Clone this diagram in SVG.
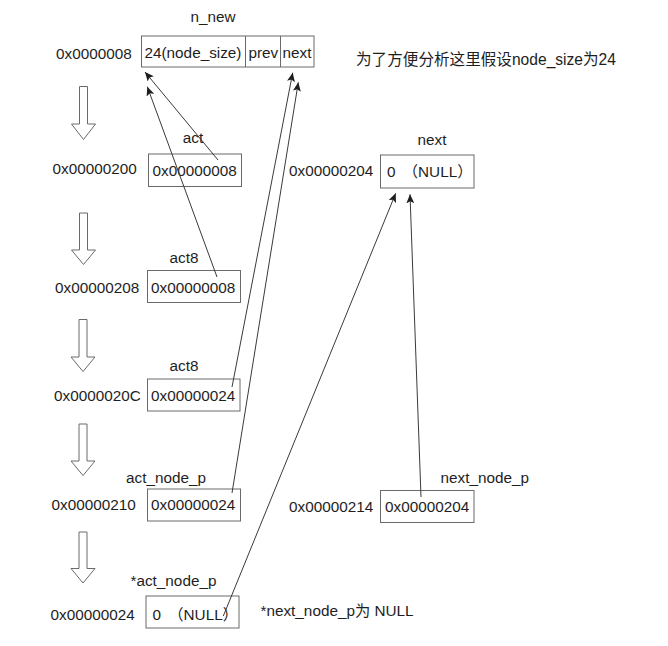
<svg xmlns="http://www.w3.org/2000/svg" width="668" height="646" viewBox="0 0 668 646">
<style>
text{font-family:"Liberation Sans","Noto Sans CJK SC",Arial,sans-serif;font-size:15.3px;fill:#1e1e1e}
.mid{text-anchor:middle}
.cjk{font-size:15.6px}
.box{fill:#fff;stroke:#6a6a6a;stroke-width:1}
.conn{stroke:#3a3a3a;stroke-width:1;fill:none;marker-end:url(#ah)}
.blk{fill:#fff;stroke:#6a6a6a;stroke-width:1}
</style>
<defs>
<marker id="ah" markerWidth="10" markerHeight="8" refX="9" refY="4" orient="auto" markerUnits="userSpaceOnUse">
<path d="M0,0 L9,4 L0,8 L2,4 Z" fill="#1e1e1e"/>
</marker>
</defs>
<rect width="668" height="646" fill="#fff"/>

<g id="n_new">
<text class="mid" x="213" y="22">n_new</text>
<text x="56" y="58.5">0x0000008</text>
<rect class="box" x="141.5" y="36" width="172.5" height="31"/>
<line x1="245.5" y1="36" x2="245.5" y2="67" stroke="#6a6a6a"/>
<line x1="280.5" y1="36" x2="280.5" y2="67" stroke="#6a6a6a"/>
<text x="144.5" y="58">24(node_size)</text>
<text x="248.5" y="58">prev</text>
<text x="282.5" y="58">next</text>
</g>

<g id="note">
<text class="cjk" x="356" y="65">为了方便分析这里假设node_size为24</text>
</g>

<g id="flow-arrows">
<polygon class="blk" points="79.5,86.5 87.5,86.5 87.5,124 95.5,124 83.5,139.5 71.5,124 79.5,124"/>
<polygon class="blk" points="79.5,213 87.5,213 87.5,250 95.5,250 83.5,264.5 71.5,250 79.5,250"/>
<polygon class="blk" points="79,319.5 87,319.5 87,357 95,357 83,371.5 71,357 79,357"/>
<polygon class="blk" points="79,424 87,424 87,461 95,461 83,475.5 71,461 79,461"/>
<polygon class="blk" points="79,532 87,532 87,568.5 95,568.5 83,583 71,568.5 79,568.5"/>
</g>

<g id="act">
<text class="mid" x="193" y="143">act</text>
<text x="52.5" y="174">0x00000200</text>
<rect class="box" x="148.5" y="154" width="93" height="32.5"/>
<text x="152.5" y="176">0x00000008</text>
</g>

<g id="act8a">
<text class="mid" x="184" y="262.5">act8</text>
<text x="55" y="292.5">0x00000208</text>
<rect class="box" x="147.5" y="270.5" width="93" height="32"/>
<text x="151" y="292.5">0x00000008</text>
</g>

<g id="act8b">
<text class="mid" x="184" y="371">act8</text>
<text x="54" y="400.5">0x0000020C</text>
<rect class="box" x="147.5" y="379" width="92.5" height="32"/>
<text x="151" y="400.5">0x00000024</text>
</g>

<g id="act_node_p">
<text class="mid" x="166" y="483">act_node_p</text>
<text x="51.5" y="510">0x00000210</text>
<rect class="box" x="147.5" y="489" width="93" height="32"/>
<text x="151" y="510">0x00000024</text>
</g>

<g id="star_act_node_p">
<text x="130.5" y="585.5">*act_node_p</text>
<text x="50.5" y="620">0x00000024</text>
<rect class="box" x="146" y="596" width="93" height="32"/>
<text x="152.5" y="620">0 <tspan dx="3">（NULL）</tspan></text>
</g>

<g id="note2">
<text x="260.5" y="615.5">*next_node_p为 NULL</text>
</g>

<g id="next">
<text class="mid" x="432" y="145">next</text>
<text x="289" y="176">0x00000204</text>
<rect class="box" x="380.5" y="155" width="93.5" height="33"/>
<text x="387" y="177">0 <tspan dx="3">（NULL）</tspan></text>
</g>

<g id="next_node_p">
<text x="440.5" y="483">next_node_p</text>
<text x="289" y="511.5">0x00000214</text>
<rect class="box" x="380.5" y="490.5" width="93.5" height="32"/>
<text x="385" y="511.5">0x00000204</text>
</g>

<g id="connectors">
<line class="conn" x1="218" y1="160" x2="145" y2="72"/>
<line class="conn" x1="217" y1="277" x2="147.3" y2="86.7"/>
<line class="conn" x1="232" y1="387" x2="292.7" y2="72.7"/>
<line class="conn" x1="232" y1="493" x2="298.3" y2="82.3"/>
<line class="conn" x1="223.3" y1="616" x2="395.7" y2="193.3"/>
<line class="conn" x1="421" y1="497" x2="410" y2="194.3"/>
</g>
</svg>
